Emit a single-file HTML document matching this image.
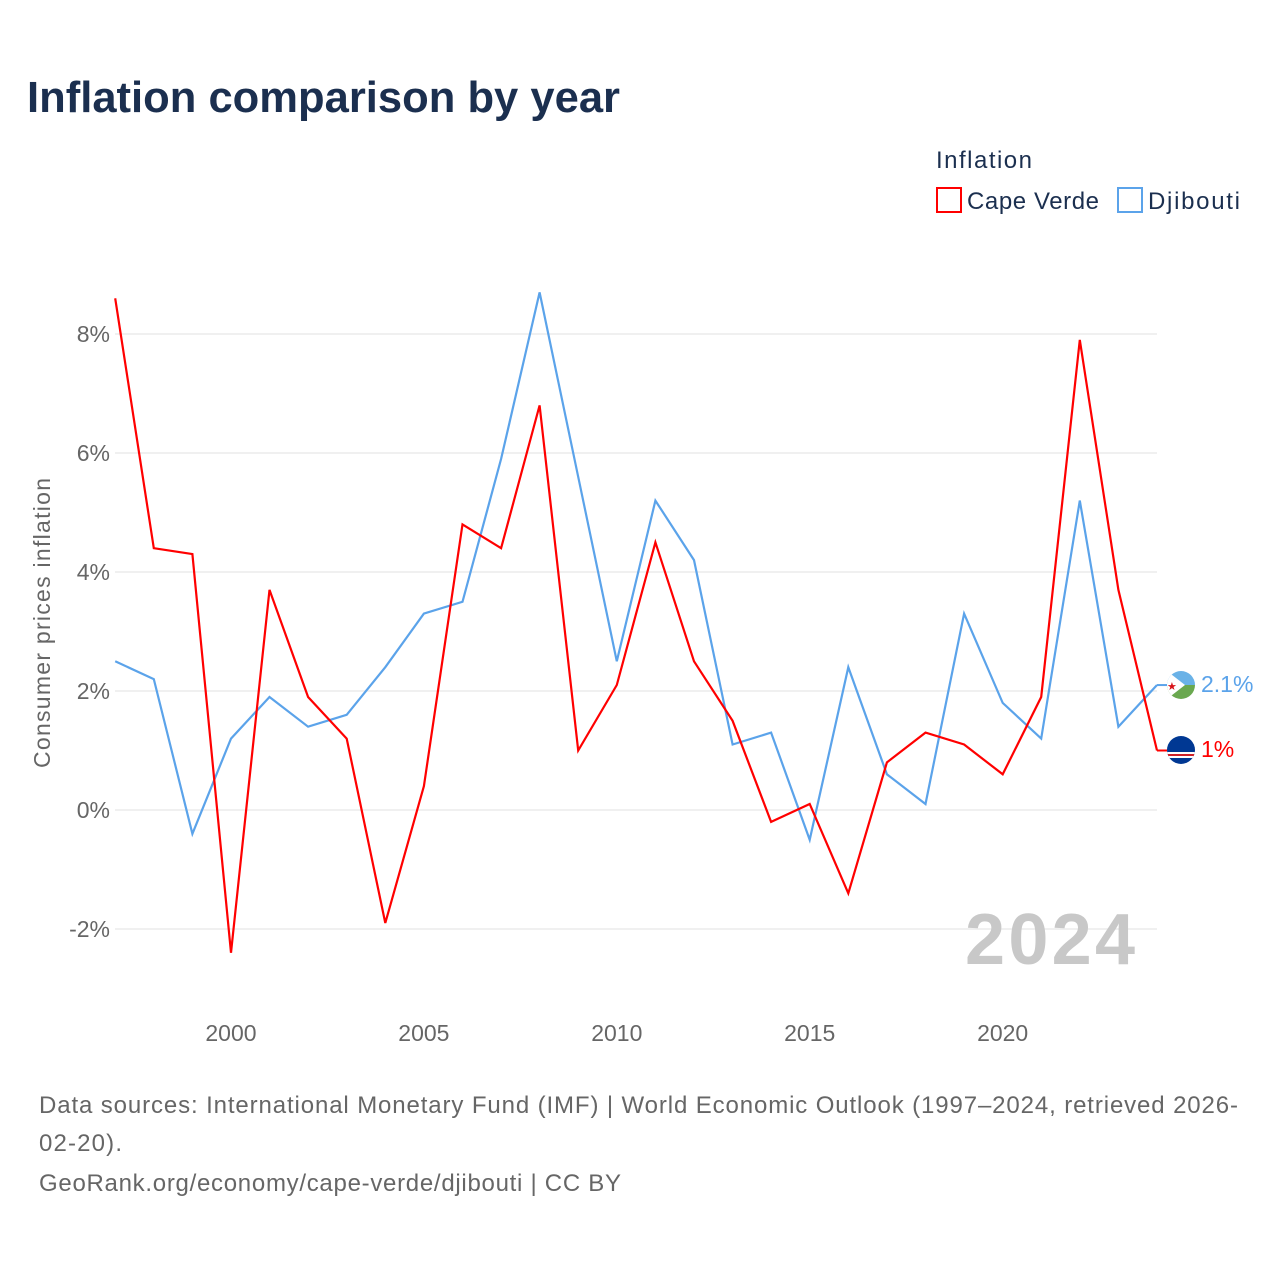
<!DOCTYPE html>
<html><head><meta charset="utf-8"><style>
body{margin:0;background:#fff;font-family:"Liberation Sans",sans-serif;}
#wrap{position:relative;width:1280px;height:1280px;overflow:hidden;}
</style></head><body>
<div id="wrap">
<svg id="chart" width="1280" height="1280">
<text x="27" y="112" font-size="44" font-weight="bold" fill="#1b2f4f" textLength="593" lengthAdjust="spacingAndGlyphs">Inflation comparison by year</text>
<g>
<text x="936" y="168" font-size="24" fill="#1b2f4f" textLength="96">Inflation</text>
<g><rect x="937" y="188" width="24" height="24" fill="#fff" stroke="#ff0000" stroke-width="2"/><text x="967" y="209" font-size="24" fill="#1b2f4f" textLength="132">Cape Verde</text></g>
<g><rect x="1118" y="188" width="24" height="24" fill="#fff" stroke="#5ba3ea" stroke-width="2"/><text x="1148" y="209" font-size="24" fill="#1b2f4f" textLength="92">Djibouti</text></g>
</g>
<g id="grid"></g>
<g id="yticks"></g>
<g id="xticks"></g>
<text transform="translate(50,623) rotate(-90)" text-anchor="middle" font-size="23" fill="#666" textLength="290">Consumer prices inflation</text>
<text x="965" y="964" font-size="72" font-weight="bold" fill="#c8c8c8" textLength="170">2024</text>
<g id="series"></g>
<g>
<clipPath id="c1"><circle cx="1181" cy="685" r="14"/></clipPath>
<g clip-path="url(#c1)"><rect x="1167" y="671" width="28" height="14" fill="#6ab2e7"/><rect x="1167" y="685" width="28" height="14" fill="#6aa84f"/><polygon points="1167,671 1185,685 1167,699" fill="#fff"/><text x="1167" y="690" font-size="11" fill="#d7141a">★</text></g>
</g>
<g>
<clipPath id="c2"><circle cx="1181" cy="750" r="14"/></clipPath>
<g clip-path="url(#c2)"><rect x="1167" y="736" width="28" height="28" fill="#003893"/><rect x="1167" y="752" width="28" height="6" fill="#fff"/><rect x="1167" y="754" width="28" height="2" fill="#cf2027"/></g>
</g>
<text x="1201" y="692" font-size="23" fill="#5ba3ea">2.1%</text>
<text x="1201" y="757" font-size="23" fill="#ff0000">1%</text>
<g font-size="24" fill="#666">
<text x="39" y="1113" textLength="1199">Data sources: International Monetary Fund (IMF) | World Economic Outlook (1997–2024, retrieved 2026-</text>
<text x="39" y="1151" textLength="83">02-20).</text>
<text x="39" y="1191" textLength="582">GeoRank.org/economy/cape-verde/djibouti | CC BY</text>
</g>
</svg>
</div>
<script>
const years=[1997,1998,1999,2000,2001,2002,2003,2004,2005,2006,2007,2008,2009,2010,2011,2012,2013,2014,2015,2016,2017,2018,2019,2020,2021,2022,2023,2024];
const capeVerde=[8.6,4.4,4.3,-2.4,3.7,1.9,1.2,-1.9,0.4,4.8,4.4,6.8,1.0,2.1,4.5,2.5,1.5,-0.2,0.1,-1.4,0.8,1.3,1.1,0.6,1.9,7.9,3.7,1.0];
const djibouti=[2.5,2.2,-0.4,1.2,1.9,1.4,1.6,2.4,3.3,3.5,5.9,8.7,5.6,2.5,5.2,4.2,1.1,1.3,-0.5,2.4,0.6,0.1,3.3,1.8,1.2,5.2,1.4,2.1];
const yTicks=[-2,0,2,4,6,8];
const xTicks=[2000,2005,2010,2015,2020];
const NS="http://www.w3.org/2000/svg";
function xs(y){return 115.2+(y-1997)*(1157-115.2)/27;}
function ys(v){return 810-v*59.5;}
function mk(t,a,p){const e=document.createElementNS(NS,t);for(const k in a)e.setAttribute(k,a[k]);p.appendChild(e);return e;}
const grid=document.getElementById('grid'),yt=document.getElementById('yticks'),xt=document.getElementById('xticks'),se=document.getElementById('series');
yTicks.forEach(v=>{
 const l=mk('line',{x1:115,x2:1157,y1:ys(v),y2:ys(v),stroke:'#ebebeb','stroke-width':1.5},grid);
 
 
 const t=mk('text',{x:110,y:ys(v)+8,'text-anchor':'end','font-size':23,fill:'#666'},yt);
 t.textContent=v+'%';
 
 
});
xTicks.forEach(v=>{
 const t=mk('text',{x:xs(v),y:1041,'text-anchor':'middle','font-size':23,fill:'#666'},xt);
 t.textContent=v;
 
 
});
function line(vals,color,name){
 const d=vals.map((v,i)=>(i?'L':'M')+xs(years[i]).toFixed(1)+','+ys(v).toFixed(1)).join(' ');
 const p=mk('path',{d:d,fill:'none',stroke:color,'stroke-width':2.2,'stroke-linejoin':'miter'},se);
 
 
 const last=vals[vals.length-1];
 mk('line',{x1:xs(2024),x2:1167,y1:ys(last),y2:ys(last),stroke:color,'stroke-width':2},se);
}
line(djibouti,'#5ba3ea','djibouti-line');
line(capeVerde,'#ff0000','cape-verde-line');
</script>
</body></html>
